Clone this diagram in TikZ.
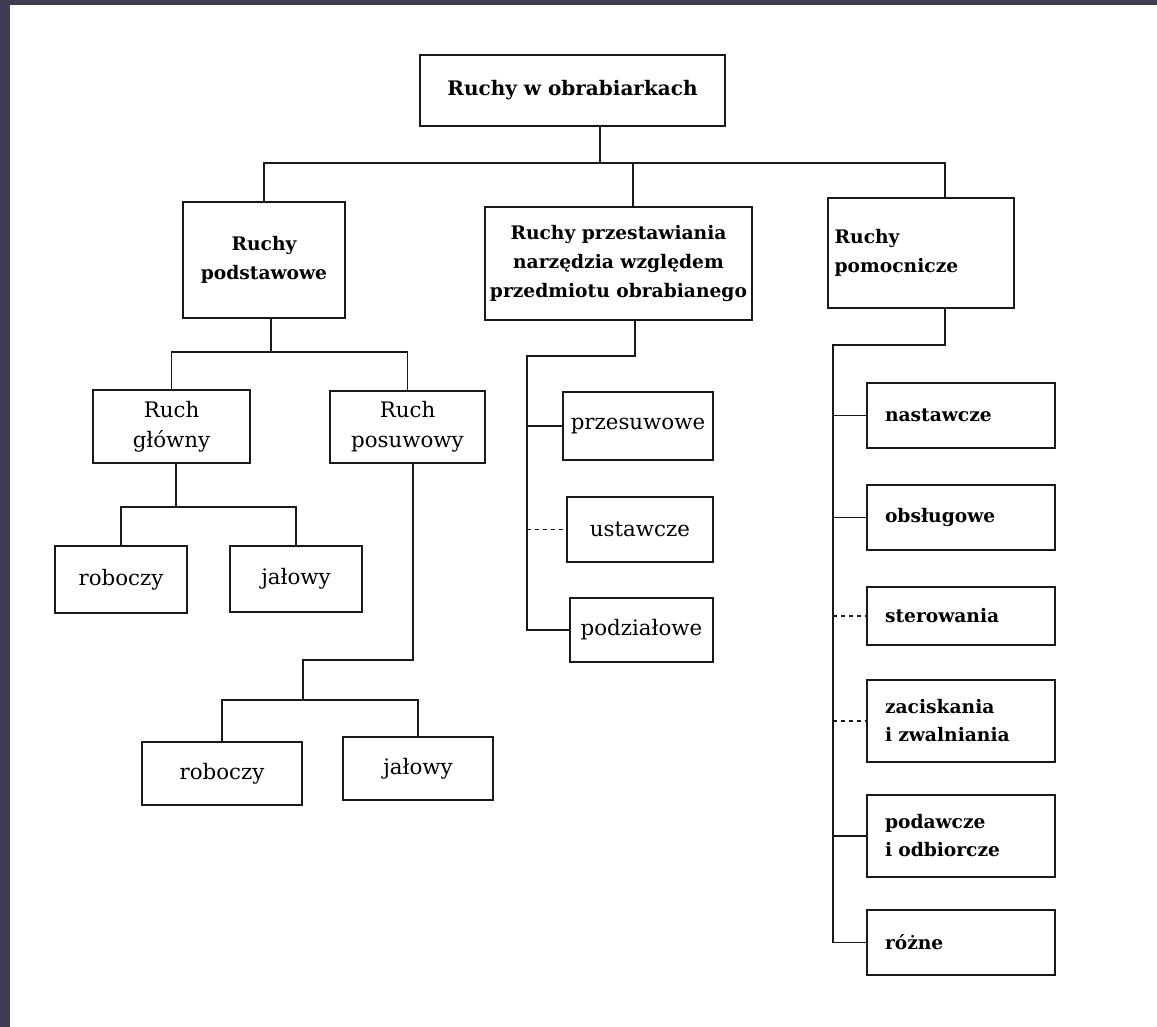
\documentclass[tikz,border=0pt]{standalone}
\usepackage{fontspec}
\setmainfont{DejaVu Serif}
\definecolor{pageedge}{RGB}{62,61,82}
\definecolor{ink}{RGB}{25,25,25}
\tikzset{
  box/.style = {draw=ink, line width=1.4pt, align=center, inner sep=0pt},
  mainbox/.style = {box, line width=1.8pt, font=\bfseries\fontsize{14}{22}\selectfont},
  subbox/.style = {box, font=\fontsize{16}{22.5}\selectfont},
  sidebox/.style = {box, font=\bfseries\fontsize{14}{21}\selectfont, align=left,
    text width=114pt, inner xsep=13.5pt},
  link/.style = {draw=ink, line width=1.4pt}
}
\begin{document}
\begin{tikzpicture}[x=0.75pt, y=-0.75pt]
    \useasboundingbox (0,0) rectangle (1157,1027);
    \fill[pageedge] (0,0) rectangle (1157,1027);
    \fill[white] (10,5) rectangle (1157,1027);
    % top level
    \node[mainbox, font=\bfseries\fontsize{15}{22}\selectfont, minimum width=228.75pt, minimum height=53.25pt] (top) at (572.5,90.5) {Ruchy w obrabiarkach};
    \node[mainbox, minimum width=121.5pt, minimum height=87pt] (podst) at (264,260) {Ruchy\\podstawowe};
    \node[mainbox, minimum width=200.25pt, minimum height=84.75pt] (przest) at (618.5,263.5) {Ruchy przestawiania\\narzędzia względem\\przedmiotu obrabianego};
    \node[mainbox, align=left, text width=129.5pt, inner xsep=5pt, minimum height=82.5pt] (pomoc) at (921,253) {Ruchy\\pomocnicze};
    % ruchy podstawowe
    \node[subbox, minimum width=117.75pt, minimum height=54.75pt] (glowny) at (171.5,426.5) {Ruch\\główny};
    \node[subbox, minimum width=116.25pt, minimum height=54pt] (posuw) at (407.5,427) {Ruch\\posuwowy};
    \node[subbox, minimum width=99pt, minimum height=50.25pt] (rob1) at (121,579.5) {roboczy};
    \node[subbox, minimum width=99pt, minimum height=49.5pt] (jal1) at (296,579) {jałowy};
    \node[subbox, minimum width=120pt, minimum height=47.25pt] (rob2) at (222,773.5) {roboczy};
    \node[subbox, minimum width=112.5pt, minimum height=47.25pt] (jal2) at (418,768.5) {jałowy};
    % ruchy przestawiania
    \node[subbox, minimum width=112.5pt, minimum height=51pt] (przes) at (638,426) {przesuwowe};
    \node[subbox, minimum width=109.5pt, minimum height=48.75pt] (ustaw) at (640,529.5) {ustawcze};
    \node[subbox, minimum width=107.25pt, minimum height=48pt] (podz) at (641.5,630) {podziałowe};
    % ruchy pomocnicze
    \node[sidebox, minimum height=48.75pt] (nast) at (961,415.5) {nastawcze};
    \node[sidebox, minimum height=48.75pt] (obsl) at (961,517.5) {obsługowe};
    \node[sidebox, minimum height=43.5pt] (ster) at (961,616) {sterowania};
    \node[sidebox, minimum height=61.5pt] (zac) at (961,721) {zaciskania\\i zwalniania};
    \node[sidebox, minimum height=61.5pt] (podaw) at (961,836) {podawcze\\i odbiorcze};
    \node[sidebox, minimum height=48.75pt] (rozne) at (961,942.5) {różne};
    % connectors
    \coordinate (t0) at (600,163);
    \coordinate (t2) at (633,163);
    \coordinate (t3) at (945,163);
    \draw[link] (top.south -| t0) -- (t0);
    \draw[link] (podst.north) |- (t3) -- (t3 |- pomoc.north);
    \draw[link] (t2) -- (t2 |- przest.north);
    \coordinate (a0) at (271,352);
    \draw[link] (podst.south -| a0) -- (a0);
    \draw[link] (glowny.north) |- (a0) -| (posuw.north);
    \coordinate (g0) at (176,507);
    \draw[link] (glowny.south -| g0) -- (g0);
    \draw[link] (rob1.north) |- (g0) -| (jal1.north);
    \coordinate (s0) at (413,660);
    \coordinate (s1) at (303,700);
    \draw[link] (posuw.south -| s0) -- (s0) -| (s1);
    \draw[link] (rob2.north) |- (s1) -| (jal2.north);
    \coordinate (p0) at (635,356);
    \coordinate (p1) at (527,356);
    \draw[link] (przest.south -| p0) -- (p0) -- (p1) |- (podz.west);
    \draw[link] (p1 |- przes.west) -- (przes.west);
    \draw[link, dashed] (p1 |- ustaw.west) -- (ustaw.west);
    \coordinate (r0) at (945,345);
    \coordinate (r1) at (833,345);
    \draw[link] (pomoc.south -| r0) -- (r0) -- (r1) |- (rozne.west);
    \draw[link] (r1 |- nast.west) -- (nast.west);
    \draw[link] (r1 |- obsl.west) -- (obsl.west);
    \draw[link, dashed] (r1 |- ster.west) -- (ster.west);
    \draw[link, dashed] (r1 |- zac.west) -- (zac.west);
    \draw[link] (r1 |- podaw.west) -- (podaw.west);
\end{tikzpicture}
\end{document}
